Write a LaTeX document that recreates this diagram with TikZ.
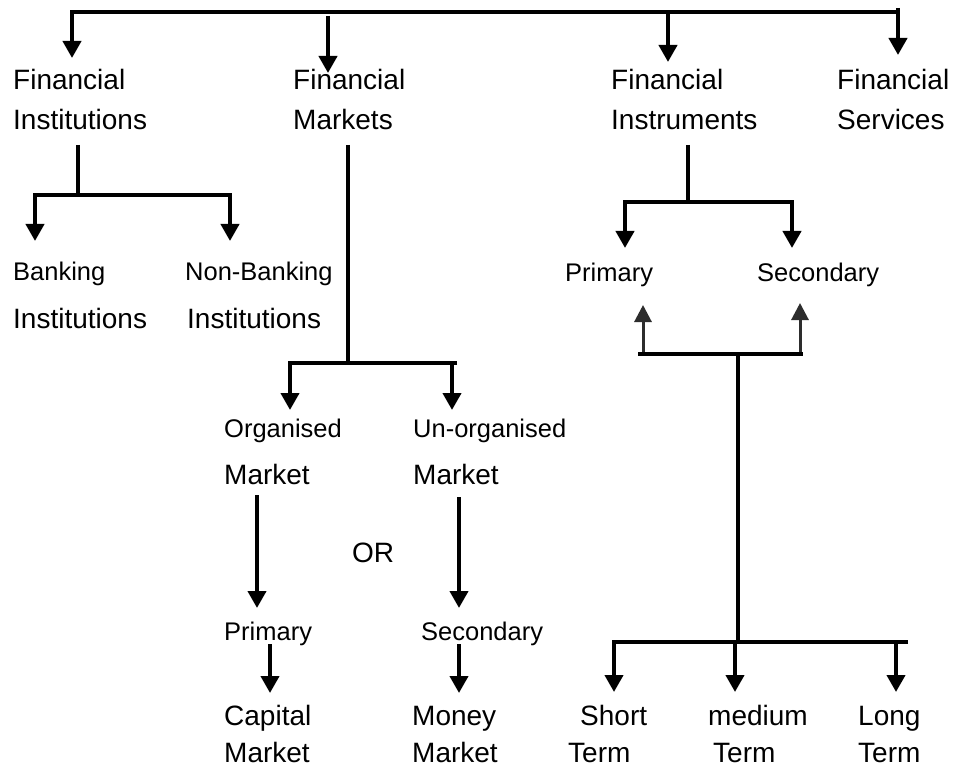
\documentclass[tikz,border=0pt]{standalone}
\usepackage{fontspec}
\setmainfont{Liberation Sans}
\usetikzlibrary{arrows.meta}
\definecolor{upgrey}{RGB}{45,45,45}
\newcommand\bigtxt{\fontsize{28}{34}\selectfont}
\newcommand\smalltxt{\fontsize{25.5}{30}\selectfont}
\begin{document}
\begin{tikzpicture}[x=1pt,y=-1pt,
  big/.style={anchor=base west,inner sep=0pt,font=\bigtxt},
  small/.style={anchor=base west,inner sep=0pt,font=\smalltxt},
  ln/.style={line width=4pt},
  arr/.style={line width=4pt,-{Triangle[width=18pt,length=17pt]}},
  barr/.style={line width=4pt,{Triangle[width=18pt,length=17pt]}-{Triangle[width=18pt,length=17pt]}},
  uparr/.style={line width=3pt,draw=upgrey,-{Triangle[width=17pt,length=17pt]}}]
\useasboundingbox[fill=white] (0,0) rectangle (955,767);

% ---- texts ----
\node[big] (fi1) at (13,90) {Financial};
\node[big] (fi2) at (13,130) {Institutions};
\node[big] (fm1) at (293,90) {Financial};
\node[big] (fm2) at (293,130) {Markets};
\node[big] (fn1) at (611,90) {Financial};
\node[big] (fn2) at (611,130) {Instruments};
\node[big] (fs1) at (837,90) {Financial};
\node[big] (fs2) at (837,130) {Services};

\node[small] (bk1) at (13,280) {Banking};
\node[big] (bk2) at (13,328) {Institutions};
\node[small] (nb1) at (185,280) {Non-Banking};
\node[big] (nb2) at (187,328) {Institutions};

\node[small] (og1) at (224,437) {Organised};
\node[big] (og2) at (224,484) {Market};
\node[small] (un1) at (413,437) {Un-organised};
\node[big] (un2) at (413,484) {Market};
\node[big] (orx) at (352,562) {OR};
\node[small] (pr) at (224,640) {Primary};
\node[small] (sc) at (421,640) {Secondary};
\node[big] (cap1) at (224,725) {Capital};
\node[big] (cap2) at (224,762) {Market};
\node[big] (mon1) at (412,725) {Money};
\node[big] (mon2) at (412,762) {Market};

\node[small] (ip) at (565,281) {Primary};
\node[small] (is) at (757,281) {Secondary};
\node[big] (st1) at (580,725) {Short};
\node[big] (st2) at (568,762) {Term};
\node[big] (md1) at (708,725) {medium};
\node[big] (md2) at (713,762) {Term};
\node[big] (lg1) at (858,725) {Long};
\node[big] (lg2) at (858,762) {Term};

% ---- coordinates ----
\coordinate (t1) at (72,12);
\coordinate (t4) at (898,12);
\coordinate (t1e) at (72,58);
\coordinate (t2s) at (328,16);
\coordinate (t2e) at (328,73);
\coordinate (t3s) at (668,12);
\coordinate (t3e) at (668,62);
\coordinate (t4s) at (898,8);
\coordinate (t4e) at (898,55);

\coordinate (iv) at (78,145);
\coordinate (ib) at (78,195);
\coordinate (ibl) at (35,195);
\coordinate (ibr) at (230,195);
\coordinate (iblt) at (35,241);
\coordinate (ibrt) at (230,241);

\coordinate (mv) at (348,145);
\coordinate (mb) at (348,363);
\coordinate (mbl) at (290,363);
\coordinate (mbr) at (457,363);
\coordinate (mblt) at (290,410);
\coordinate (mar) at (452,363);
\coordinate (mart) at (452,410);

\coordinate (o1s) at (257,495);
\coordinate (o1e) at (257,608);
\coordinate (o2s) at (459,497);
\coordinate (o2e) at (459,608);
\coordinate (p1s) at (270,644);
\coordinate (p1e) at (270,693);
\coordinate (p2s) at (459,644);
\coordinate (p2e) at (459,693);

\coordinate (nv) at (688,145);
\coordinate (nb) at (688,202);
\coordinate (nbl) at (625,202);
\coordinate (nbr) at (792,202);
\coordinate (nblt) at (625,248);
\coordinate (nbrt) at (792,248);

\coordinate (ubl) at (638,354);
\coordinate (ubr) at (803,354);
\coordinate (u1s) at (643,354);
\coordinate (u1e) at (643,305);
\coordinate (u2s) at (800,354);
\coordinate (u2e) at (800,303);
\coordinate (uv) at (738,354);
\coordinate (bb) at (738,642);
\coordinate (bbl) at (614,642);
\coordinate (bbr) at (908,642);
\coordinate (bblt) at (614,692);
\coordinate (bm) at (735,642);
\coordinate (bmt) at (735,692);
\coordinate (br) at (896,642);
\coordinate (brt) at (896,692);

% ---- connectors ----
\draw[arr] (t4) -- (t1) -- (t1e);
\draw[arr] (t2s) -- (t2e);
\draw[arr] (t3s) -- (t3e);
\draw[arr] (t4s) -- (t4e);

\draw[ln] (iv) -- (ib);
\draw[barr] (iblt) -- (ibl) -- (ibr) -- (ibrt);

\draw[ln] (mv) -- (mb);
\draw[arr] (mbr) -- (mbl) -- (mblt);
\draw[arr] (mar) -- (mart);
\draw[arr] (o1s) -- (o1e);
\draw[arr] (o2s) -- (o2e);
\draw[arr] (p1s) -- (p1e);
\draw[arr] (p2s) -- (p2e);

\draw[ln] (nv) -- (nb);
\draw[barr] (nblt) -- (nbl) -- (nbr) -- (nbrt);

\draw[uparr] (u1s) -- (u1e);
\draw[uparr] (u2s) -- (u2e);
\draw[ln] (ubl) -- (ubr);
\draw[ln] (uv) -- (bb);
\draw[arr] (bbr) -- (bbl) -- (bblt);
\draw[arr] (bm) -- (bmt);
\draw[arr] (br) -- (brt);
\end{tikzpicture}
\end{document}
